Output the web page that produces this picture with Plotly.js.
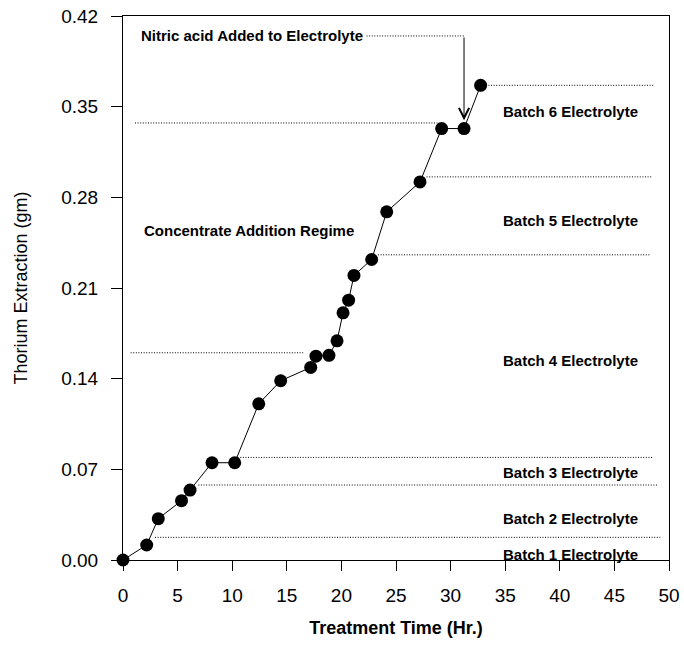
<!DOCTYPE html>
<html>
<head>
<meta charset="utf-8">
<script src="https://cdn.plot.ly/plotly-3.0.1.min.js"></script>
<style>html,body{margin:0;padding:0;background:#fff}#chart{width:684px;height:647px}</style>
</head>
<body>
<div id="chart"></div>
<script>
// Measured data: treatment time (hr) vs thorium extraction (gm)
var timeHr = [0, 2.17, 3.23, 5.36, 6.14, 8.15, 10.23, 12.43, 14.44, 17.19, 17.67, 18.86, 19.6, 20.15, 20.66, 21.15, 22.77, 24.15, 27.2, 29.18, 31.23, 32.75];
var thoriumGm = [0, 0.0116, 0.0319, 0.0458, 0.054, 0.0751, 0.0751, 0.1206, 0.1384, 0.1487, 0.1574, 0.158, 0.1692, 0.1908, 0.2006, 0.2197, 0.232, 0.2688, 0.2919, 0.3331, 0.3331, 0.3665];

// Dotted boundary lines: level, start time, end time
var boundaryLevel = [0.0175, 0.0579, 0.0792, 0.16, 0.2356, 0.2958, 0.3374, 0.3665];
var boundaryStart = [2.93, 6.9, 10.5, 0.7, 23.35, 27.8, 1.1, 32.75];
var boundaryEnd   = [49.2, 48.9, 48.6, 16.5, 48.3, 48.5, 28.8, 48.7];

// Batch labels
var batchLabels = ['Batch 1 Electrolyte', 'Batch 2 Electrolyte', 'Batch 3 Electrolyte', 'Batch 4 Electrolyte', 'Batch 5 Electrolyte', 'Batch 6 Electrolyte'];
var batchLabelLevel = [0.0039, 0.0319, 0.0674, 0.1543, 0.2618, 0.3465];
var batchLabelTime = 34.6;

// Other notes
var nitricText = 'Nitric acid Added to Electrolyte';
var nitricLevel = 0.4046, nitricTextTime = 1.45, nitricTime = 31.23, nitricArrowTip = 0.3395;
var regimeText = 'Concentrate Addition Regime';
var regimeLevel = 0.2541, regimeTime = 1.75;

var xTicks = [0, 5, 10, 15, 20, 25, 30, 35, 40, 45, 50];
var yTicks = [0, 0.07, 0.14, 0.21, 0.28, 0.35, 0.42];

var FONT = 'Liberation Sans, Arial, sans-serif';
var dotted = {color: '#000', width: 1, dash: '1px,1.6px'};

var shapes = [];
for (var i = 0; i < boundaryLevel.length; i++) {
  shapes.push({type: 'line', xref: 'x', yref: 'y', x0: boundaryStart[i], x1: boundaryEnd[i], y0: boundaryLevel[i], y1: boundaryLevel[i], line: dotted});
}
// Nitric acid leader line (text end to arrow)
shapes.push({type: 'line', xref: 'x', yref: 'y', x0: 22.3, x1: nitricTime, y0: nitricLevel, y1: nitricLevel, line: dotted});

var annotations = [];
for (var j = 0; j < batchLabels.length; j++) {
  annotations.push({x: batchLabelTime, y: batchLabelLevel[j], xref: 'x', yref: 'y', text: '<b>' + batchLabels[j] + '</b>', showarrow: false, xanchor: 'left', yanchor: 'middle', font: {family: FONT, size: 15, color: '#000'}});
}
annotations.push({x: nitricTextTime, y: nitricLevel, xref: 'x', yref: 'y', text: '<b>' + nitricText + '</b>', showarrow: false, xanchor: 'left', yanchor: 'middle', font: {family: FONT, size: 15, color: '#000'}});
annotations.push({x: regimeTime, y: regimeLevel, xref: 'x', yref: 'y', text: '<b>' + regimeText + '</b>', showarrow: false, xanchor: 'left', yanchor: 'middle', font: {family: FONT, size: 15, color: '#000'}});
annotations.push({x: nitricTime, y: nitricArrowTip, xref: 'x', yref: 'y', ax: nitricTime, ay: nitricLevel, axref: 'x', ayref: 'y', text: '', showarrow: true, arrowhead: 5, arrowsize: 2, arrowwidth: 1, arrowcolor: '#000'});

var trace = {
  x: timeHr, y: thoriumGm, type: 'scatter', mode: 'lines+markers',
  line: {color: '#000', width: 1},
  marker: {color: '#000', size: 13},
  cliponaxis: false, showlegend: false, hoverinfo: 'none'
};

var layout = {
  width: 684, height: 647,
  margin: {l: 123, r: 15, t: 16, b: 87},
  paper_bgcolor: '#fff', plot_bgcolor: '#fff',
  font: {family: FONT, color: '#000'},
  showlegend: false,
  xaxis: {
    range: [0, 50], tickvals: xTicks, ticktext: xTicks.map(String),
    ticks: 'outside', ticklen: 10, tickwidth: 1, tickcolor: '#000',
    showline: true, linecolor: '#000', linewidth: 1, mirror: true,
    showgrid: false, zeroline: false,
    tickfont: {family: FONT, size: 19, color: '#000'},
    ticklabelstandoff: 8,
    title: {text: '<b>Treatment Time (Hr.)</b>', font: {family: FONT, size: 18, color: '#000'}, standoff: 16}
  },
  yaxis: {
    range: [0, 0.42], tickvals: yTicks, ticktext: yTicks.map(function(v){return v.toFixed(2);}),
    ticks: 'outside', ticklen: 11, tickwidth: 1, tickcolor: '#000',
    showline: true, linecolor: '#000', linewidth: 1, mirror: true,
    showgrid: false, zeroline: false,
    tickfont: {family: FONT, size: 19, color: '#000'},
    ticklabelstandoff: 9,
    title: {text: 'Thorium Extraction (gm)', font: {family: FONT, size: 18, color: '#000'}, standoff: 28}
  },
  shapes: shapes,
  annotations: annotations
};

Plotly.newPlot('chart', [trace], layout, {displayModeBar: false, staticPlot: true});
</script>
</body>
</html>
